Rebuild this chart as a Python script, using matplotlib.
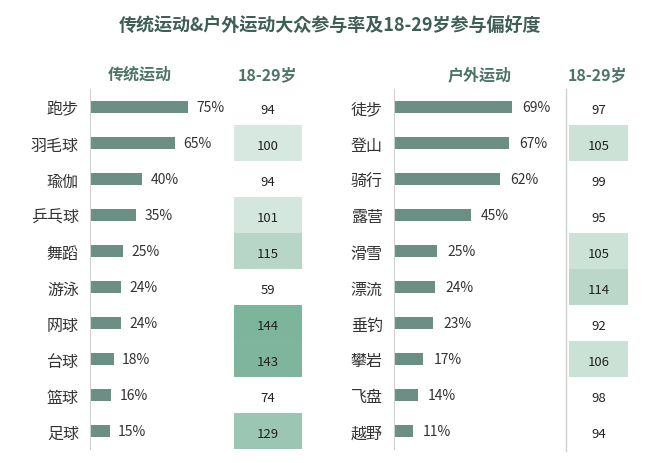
import glob
import matplotlib
matplotlib.use('Agg')
import matplotlib.pyplot as plt
from matplotlib import colors, font_manager

# make sure a CJK font is registered
for f in glob.glob('/usr/share/fonts/**/*CJK*', recursive=True):
    try:
        font_manager.fontManager.addfont(f)
    except Exception:
        pass
cjk = [f.name for f in font_manager.fontManager.ttflist if 'CJK' in f.name]
pref = [n for n in cjk if n.endswith('SC')] + cjk
plt.rcParams['font.family'] = (pref[:1] if pref else []) + ['DejaVu Sans']

# data
trad_sports = ['跑步', '羽毛球', '瑜伽', '乒乓球', '舞蹈', '游泳', '网球', '台球', '篮球', '足球']
trad_rate = [75, 65, 40, 35, 25, 24, 24, 18, 16, 15]
trad_pref = [94, 100, 94, 101, 115, 59, 144, 143, 74, 129]

out_sports = ['徒步', '登山', '骑行', '露营', '滑雪', '漂流', '垂钓', '攀岩', '飞盘', '越野']
out_rate = [69, 67, 62, 45, 25, 24, 23, 17, 14, 11]
out_pref = [97, 105, 99, 95, 105, 114, 92, 106, 98, 94]

W, H = 660, 464
BAR = '#6b8f84'
HEAD = '#4d7468'
cmap = colors.LinearSegmentedColormap.from_list('g', ['#d6e8df', '#7db49c'])
norm = colors.Normalize(100, 144)

fig = plt.figure(figsize=(W / 100, H / 100), dpi=100)


def px_axes(x0, x1, y0=90, y1=450):
    return fig.add_axes([x0 / W, 1 - y1 / H, (x1 - x0) / W, (y1 - y0) / H])


def bar_panel(x0, x1, xmax, names, rates):
    ax = px_axes(x0, x1)
    ys = range(len(names))
    ax.barh(ys, rates, height=0.33, color=BAR)
    for y, r in zip(ys, rates):
        ax.text(r + xmax * 0.06, y, f'{r}%', va='center', ha='left', fontsize=10, color='#333333')
    ax.set_yticks(list(ys))
    ax.set_yticklabels(names, fontsize=11.5, color='#333333')
    ax.tick_params(axis='y', length=0, pad=8)
    ax.set_xticks([])
    ax.set_xlim(0, xmax)
    ax.set_ylim(len(names) - 0.5, -0.5)
    for s in ['top', 'right', 'bottom']:
        ax.spines[s].set_visible(False)
    ax.spines['left'].set_color('#d0d0d0')
    return ax


def heat_panel(x0, x1, prefs):
    ax = px_axes(x0, x1)
    for y, v in enumerate(prefs):
        if v >= 100:
            ax.barh(y, 1, height=1, left=0, color=cmap(norm(v)))
        ax.text(0.5, y + 0.08, str(v), ha='center', va='center', fontsize=9.5, color='#222222')
    ax.set_xlim(0, 1)
    ax.set_ylim(len(prefs) - 0.5, -0.5)
    ax.axis('off')
    return ax


bar_panel(90, 230, 107, trad_sports, trad_rate)
heat_panel(234, 302, trad_pref)
bar_panel(394, 564, 99.4, out_sports, out_rate)
heat_panel(569, 628, out_pref)

# divider line before right heat column
fig.add_artist(plt.Line2D([566 / W, 566 / W], [1 - 452 / H, 1 - 90 / H], color='#d0d0d0', lw=1))

fig.text(0.5, 1 - 25 / H, '传统运动&户外运动大众参与率及18-29岁参与偏好度',
         ha='center', va='center', fontsize=13, fontweight='bold', color='#3f5f56')
for x, t in [(140, '传统运动'), (268, '18-29岁'), (480, '户外运动'), (598, '18-29岁')]:
    fig.text(x / W, 1 - 75 / H, t, ha='center', va='center', fontsize=11.5,
             fontweight='bold', color=HEAD)

fig.savefig('out.png', dpi=100, facecolor='white')
